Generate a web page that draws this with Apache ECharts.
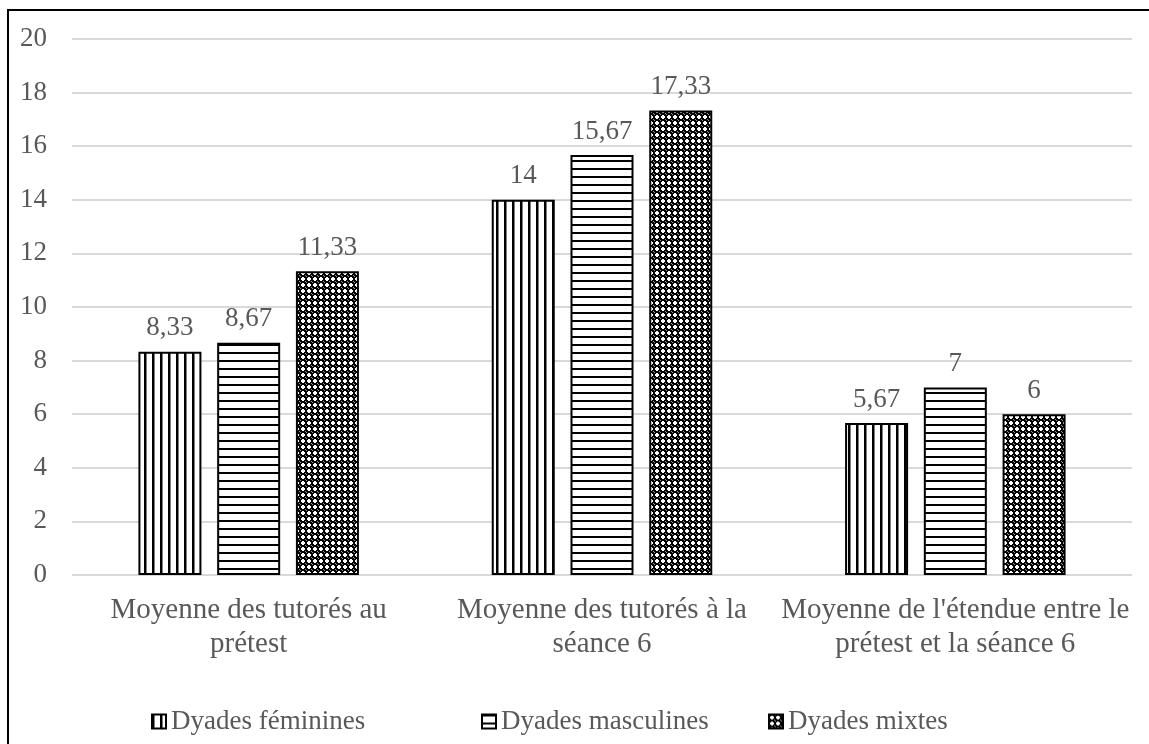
<!DOCTYPE html>
<html>
<head>
<meta charset="utf-8">
<script src="https://cdn.jsdelivr.net/npm/echarts@6/dist/echarts.min.js"></script>
<style>
html, body { margin: 0; padding: 0; background: #fff; }
#main { width: 1149px; height: 744px; }
</style>
</head>
<body>
<div id="main"></div>
<script>
var categories = ['Moyenne des tutorés au\nprétest', 'Moyenne des tutorés à la\nséance 6', "Moyenne de l'étendue entre le\nprétest et la séance 6"];
var seriesNames = ['Dyades féminines', 'Dyades masculines', 'Dyades mixtes'];
var feminines = [8.33, 14, 5.67];
var masculines = [8.67, 15.67, 7];
var mixtes = [11.33, 17.33, 6];
var yTicks = [0, 20, 2];

// motifs de remplissage
function makePattern(kind) {
    var c = document.createElement('canvas');
    var ctx = c.getContext('2d');
    if (kind === 'v') {
        c.width = 8; c.height = 8;
        ctx.fillStyle = '#fff'; ctx.fillRect(0, 0, 8, 8);
        ctx.fillStyle = '#000'; ctx.fillRect(0, 0, 2.5, 8);
    } else if (kind === 'h') {
        c.width = 8; c.height = 8;
        ctx.fillStyle = '#fff'; ctx.fillRect(0, 0, 8, 8);
        ctx.fillStyle = '#000'; ctx.fillRect(0, 0, 8, 2);
    } else {
        c.width = 6; c.height = 6;
        ctx.fillStyle = '#000'; ctx.fillRect(0, 0, 6, 6);
        ctx.fillStyle = '#fff';
        ctx.fillRect(2, 1, 2, 4);
        ctx.fillRect(1, 2, 4, 2);
        ctx.fillStyle = '#9a9a9a';
        ctx.fillRect(0, 0, 1, 1);
        ctx.fillRect(5, 5, 1, 1);
    }
    return { image: c, repeat: 'repeat' };
}

var patterns = [makePattern('v'), makePattern('h'), makePattern('x')];
var values = [feminines, masculines, mixtes];

var textColor = '#595959';
var font = '"Liberation Serif", "Times New Roman", serif';
var legendLeft = [146, 476, 763];

var myChart = echarts.init(document.getElementById('main'));

var series = [];
var legends = [];
for (var i = 0; i < seriesNames.length; i++) {
    series.push({
        name: seriesNames[i],
        type: 'bar',
        barWidth: 63,
        barGap: '25%',
        data: values[i],
        itemStyle: {
            color: patterns[i],
            borderColor: '#000',
            borderWidth: 2
        },
        label: {
            show: true,
            position: 'top',
            distance: 10,
            color: textColor,
            fontFamily: font,
            fontSize: 27,
            formatter: function (p) { return String(p.value).replace('.', ','); }
        }
    });
    legends.push({
        left: legendLeft[i],
        top: 703,
        icon: 'rect',
        itemWidth: 14,
        itemHeight: 14,
        textStyle: { color: textColor, fontFamily: font, fontSize: 27 },
        data: [seriesNames[i]]
    });
}

var option = {
    animation: false,
    backgroundColor: '#fff',
    graphic: [{
        type: 'rect',
        shape: { x: 8, y: 10, width: 1200, height: 800 },
        style: { fill: 'none', stroke: '#000', lineWidth: 2 },
        silent: true
    }],
    grid: { left: 72, right: 17, top: 39, bottom: 169 },
    legend: legends,
    xAxis: {
        type: 'category',
        data: categories,
        axisLine: { show: false },
        axisTick: { show: false },
        axisLabel: {
            interval: 0,
            margin: 18,
            color: textColor,
            fontFamily: font,
            fontSize: 29,
            lineHeight: 34
        }
    },
    yAxis: {
        type: 'value',
        min: yTicks[0],
        max: yTicks[1],
        interval: yTicks[2],
        axisLine: { show: false },
        axisTick: { show: false },
        axisLabel: {
            margin: 25,
            color: textColor,
            fontFamily: font,
            fontSize: 27
        },
        splitLine: { lineStyle: { color: '#d9d9d9', width: 2 } }
    },
    series: series
};

myChart.setOption(option, true);
</script>
</body>
</html>
